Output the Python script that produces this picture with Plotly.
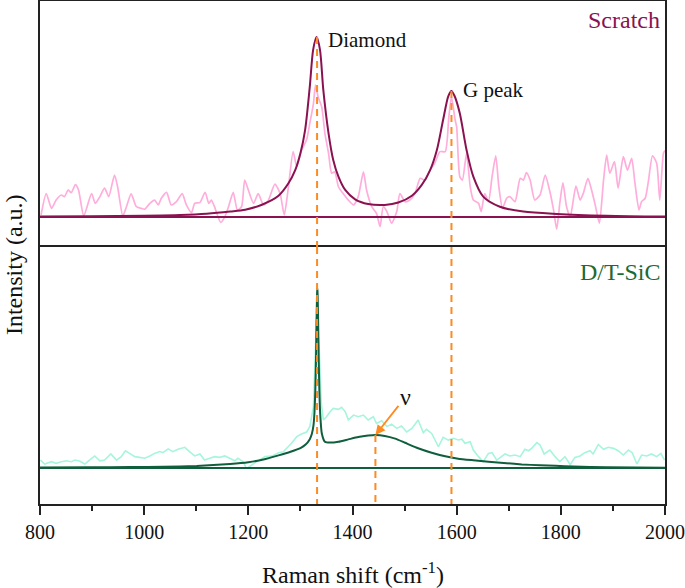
import plotly.graph_objects as go

# ---------------- data ----------------
scratch_raw_x = [802, 812, 822, 831, 841, 847, 854, 860, 868, 874, 884, 899, 906, 915, 924, 932, 943, 949,
                 959, 966, 975, 985, 994, 1001, 1011, 1020, 1027, 1033, 1043, 1052, 1062, 1073, 1081, 1091,
                 1097, 1107, 1117, 1124, 1129, 1135, 1147, 1155, 1162, 1171, 1179, 1187, 1193,
                 1200, 1210, 1219, 1229, 1238, 1251, 1261, 1269, 1277, 1286, 1293, 1302, 1312, 1318, 1325,
                 1329, 1334, 1341, 1347, 1354, 1360, 1366, 1373, 1382, 1392, 1402, 1411, 1421, 1427, 1437,
                 1446, 1453, 1459, 1466, 1475, 1485, 1491, 1501, 1510, 1520, 1530, 1539, 1549, 1558, 1568,
                 1578, 1585, 1590, 1597,
                 1600, 1606, 1611, 1619, 1626, 1632, 1642, 1647, 1654, 1661, 1668, 1675, 1681, 1688, 1696,
                 1702, 1712, 1722, 1728, 1734, 1741, 1750, 1760, 1770, 1779, 1786, 1792, 1798, 1804, 1811,
                 1818, 1829, 1837, 1843, 1852, 1859, 1866, 1874, 1882, 1888, 1894, 1903, 1910, 1920, 1928,
                 1936, 1942, 1950, 1955, 1962, 1968, 1976, 1984, 1990, 1997, 2000]
scratch_raw_y = [0.011, 0.13, 0.048, 0.094, 0.122, 0.113, 0.15, 0.135, 0.18, 0.15, 0.006, 0.13, 0.076, 0.113,
                 0.16, 0.113, 0.233, 0.168, 0.006, 0.057, 0.128, 0.057, 0.048, 0.043, 0.076, 0.094, 0.067,
                 0.104, 0.137, 0.067, 0.085, 0.13, 0.067, 0.024, 0.076, 0.08, 0.137, 0.076, 0.094, 0.057,
                 -0.03, 0.002, 0.057, 0.137, 0.039, 0.057, 0.205,
                 0.15, 0.076, 0.13, 0.067, 0.09, 0.183, 0.13, 0.011, 0.167, 0.363, 0.28, 0.37, 0.43, 0.52,
                 0.63, 0.733, 0.667, 0.61, 0.465, 0.354, 0.243, 0.25, 0.168, 0.13, 0.094, 0.067, 0.113, 0.25,
                 0.15, 0.057, 0.02, -0.054, 0.057, 0.03, -0.035, 0.03, 0.13, 0.085, 0.094, 0.13, 0.215,
                 0.205, 0.26, 0.3, 0.363, 0.363, 0.557, 0.668, 0.54,
                 0.50, 0.224, 0.205, 0.354, 0.168, 0.094, 0.076, 0.03, 0.13, 0.085, 0.224, 0.34, 0.168,
                 0.048, 0.104, 0.113, 0.085, 0.215, 0.205, 0.246, 0.205, 0.094, 0.122, 0.233, 0.14, 0.039,
                 -0.068, 0.076, 0.19, 0.057, 0.0, 0.172, 0.094, 0.13, 0.215, 0.15, 0.067, -0.035, 0.205,
                 0.344, 0.243, 0.307, 0.16, 0.335, 0.26, 0.326, 0.196, 0.039, 0.085, 0.104, 0.196, 0.34,
                 0.298, 0.094, 0.354, 0.37]

scratch_fit_x = [800, 900, 1000, 1069, 1120, 1165, 1194, 1226, 1258, 1277, 1290, 1300, 1309, 1318, 1324.5,
                 1331, 1337.5, 1344, 1354, 1363, 1373, 1386, 1405, 1430, 1462, 1488, 1514, 1533, 1549,
                 1562, 1574, 1584, 1590, 1596, 1606, 1619, 1632, 1651, 1683, 1728, 1792, 1888, 2000]
scratch_fit_y = [0.002, 0.004, 0.007, 0.011, 0.018, 0.03, 0.04, 0.068, 0.118, 0.187, 0.26, 0.354, 0.483,
                 0.724, 0.93, 1.0, 0.93, 0.705, 0.465, 0.317, 0.224, 0.15, 0.098, 0.072, 0.067, 0.08,
                 0.118, 0.178, 0.26, 0.372, 0.54, 0.672, 0.70, 0.672, 0.576, 0.372, 0.224, 0.113, 0.057,
                 0.03, 0.017, 0.007, 0.002]

dt_raw_x = [801, 809, 822, 831, 841, 851, 860, 867, 876, 886, 895, 905, 915, 924, 936, 947, 956, 964, 972,
            982, 991, 1001, 1011, 1020, 1030, 1036, 1046, 1055, 1065, 1078, 1087, 1097, 1107, 1116, 1126,
            1135, 1145, 1155, 1164, 1174, 1180, 1190, 1196,
            1200, 1213, 1232, 1245, 1258, 1267, 1274, 1283, 1293, 1302, 1312, 1318, 1325, 1328, 1331,
            1336, 1340, 1344, 1350, 1357, 1363, 1373, 1379, 1386, 1392, 1402, 1411, 1421, 1430, 1440,
            1446, 1456, 1466, 1475, 1485, 1494, 1504, 1514, 1526, 1536, 1542, 1552, 1565, 1574, 1584,
            1594,
            1603, 1610, 1616, 1626, 1632, 1642, 1651, 1661, 1668, 1677, 1686, 1693, 1702, 1712, 1722,
            1731, 1738, 1744, 1754, 1760, 1768, 1779, 1789, 1798, 1808, 1818, 1827, 1837, 1846, 1856,
            1862, 1872, 1882, 1891, 1901, 1910, 1920, 1930, 1937, 1946, 1955, 1965, 1974, 1984, 1992,
            1999]
dt_raw_y = [0.044, 0.022, 0.035, 0.026, 0.035, 0.04, 0.035, 0.044, 0.039, 0.022, 0.044, 0.067, 0.04, 0.044,
            0.078, 0.044, 0.063, 0.096, 0.081, 0.063, 0.059, 0.054, 0.067, 0.081, 0.091, 0.085, 0.106,
            0.091, 0.104, 0.115, 0.091, 0.067, 0.078, 0.044, 0.054, 0.063, 0.059, 0.067, 0.054, 0.04,
            0.054, 0.035, 0.0,
            0.003, 0.03, 0.063, 0.066, 0.085, 0.09, 0.109, 0.137, 0.174, 0.189, 0.2, 0.23, 0.34, 0.58,
            0.84, 0.67, 0.36, 0.267, 0.285, 0.313, 0.331, 0.326, 0.337, 0.313, 0.267, 0.294, 0.285,
            0.294, 0.267, 0.285, 0.248, 0.263, 0.23, 0.244, 0.22, 0.233, 0.2, 0.22, 0.267, 0.196, 0.215,
            0.192, 0.118, 0.17, 0.155, 0.165,
            0.156, 0.16, 0.137, 0.146, 0.1, 0.063, 0.035, 0.081, 0.085, 0.044, 0.063, 0.078, 0.067,
            0.072, 0.063, 0.104, 0.096, 0.109, 0.141, 0.128, 0.078, 0.1, 0.063, 0.035, 0.063, 0.018,
            0.059, 0.067, 0.085, 0.096, 0.078, 0.131, 0.104, 0.115, 0.109, 0.096, 0.072, 0.1, 0.085,
            0.022, 0.072, 0.067, 0.078, 0.063, 0.081, 0.044]

dt_fit_x = [800, 900, 973, 1037, 1101, 1165, 1200, 1229, 1258, 1281, 1300, 1310, 1318, 1322, 1325, 1327,
            1328.5, 1330, 1331, 1332, 1332.5, 1333, 1334, 1335, 1336.5, 1338, 1341, 1347, 1357, 1373,
            1392, 1411, 1430, 1444, 1462, 1482, 1501, 1526, 1552, 1578, 1603, 1632, 1661, 1696, 1725,
            1760, 1790, 1824, 1888, 2000]
dt_fit_y = [0.003, 0.004, 0.005, 0.007, 0.011, 0.022, 0.032, 0.047, 0.07, 0.09, 0.11, 0.13, 0.16, 0.19,
            0.235, 0.31, 0.42, 0.62, 0.82, 0.97, 1.0, 0.97, 0.82, 0.62, 0.42, 0.30, 0.193, 0.146, 0.141,
            0.146, 0.159, 0.172, 0.18, 0.183, 0.178, 0.163, 0.14, 0.11, 0.085, 0.065, 0.052, 0.043,
            0.035, 0.027, 0.02, 0.015, 0.012, 0.008, 0.004, 0.001]

baseline_x = [800, 2000]
baseline_y = [0, 0]

guide_x = [1332, 1590]        # Diamond and G peak positions
guide_top = [1.0, 0.70]       # fitted peak heights (top panel)
nu_x = 1444                   # nu band position (bottom panel)
nu_y = 0.183

x_ticks = [800, 1000, 1200, 1400, 1600, 1800, 2000]

# ---------------- styling ----------------
PINK = "#FFADDB"
MAGENTA = "#8A1250"
CYAN = "#A6F5DD"
GREEN = "#0F5E3C"
LABEL_GREEN = "#1B6B35"
ORANGE = "#FF8A1E"
FONT = "Liberation Serif"
FRAME = "#222222"

TOP_RANGE = [-0.1667, 1.2]
BOT_RANGE = [-0.2, 1.228]
SPLIT = 0.511

fig = go.Figure()

fig.add_trace(go.Scatter(x=scratch_raw_x, y=scratch_raw_y, mode="lines",
                         line=dict(color=PINK, width=1.7, shape="spline", smoothing=0.6),
                         xaxis="x", yaxis="y", hoverinfo="skip"))
fig.add_trace(go.Scatter(x=baseline_x, y=baseline_y, mode="lines",
                         line=dict(color=MAGENTA, width=2), xaxis="x", yaxis="y"))
fig.add_trace(go.Scatter(x=scratch_fit_x, y=scratch_fit_y, mode="lines",
                         line=dict(color=MAGENTA, width=2, shape="spline", smoothing=0.8),
                         xaxis="x", yaxis="y"))

fig.add_trace(go.Scatter(x=dt_raw_x, y=dt_raw_y, mode="lines",
                         line=dict(color=CYAN, width=1.6),
                         xaxis="x2", yaxis="y2", hoverinfo="skip"))
fig.add_trace(go.Scatter(x=baseline_x, y=baseline_y, mode="lines",
                         line=dict(color=GREEN, width=2), xaxis="x2", yaxis="y2"))
fig.add_trace(go.Scatter(x=dt_fit_x, y=dt_fit_y, mode="lines",
                         line=dict(color=GREEN, width=2, shape="spline", smoothing=0.5),
                         xaxis="x2", yaxis="y2"))

shapes = []
dash = "7px,5px"
for gx, gt in zip(guide_x, guide_top):
    shapes.append(dict(type="line", xref="x", yref="y", x0=gx, x1=gx, y0=gt, y1=TOP_RANGE[0],
                       line=dict(color=ORANGE, width=2, dash=dash), layer="above"))
    shapes.append(dict(type="line", xref="x2", yref="y2 domain", x0=gx, x1=gx, y0=1, y1=0,
                       line=dict(color=ORANGE, width=2, dash=dash), layer="above"))
shapes.append(dict(type="line", xref="x2", yref="y2", x0=nu_x, x1=nu_x, y0=nu_y, y1=BOT_RANGE[0],
                   line=dict(color=ORANGE, width=2, dash=dash), layer="above"))

annotations = [
    dict(text="Diamond", x=guide_x[0] + 18, y=0.985, xref="x", yref="y", xanchor="left",
         yanchor="middle", showarrow=False, font=dict(family=FONT, size=21, color="#111")),
    dict(text="G peak", x=guide_x[1] + 19, y=0.705, xref="x", yref="y", xanchor="left",
         yanchor="middle", showarrow=False, font=dict(family=FONT, size=21, color="#111")),
    dict(text="Scratch", x=0.995, y=1.094, xref="x domain", yref="y", xanchor="right",
         yanchor="middle", showarrow=False, font=dict(family=FONT, size=24, color=MAGENTA)),
    dict(text="D/T-SiC", x=0.995, y=1.089, xref="x2 domain", yref="y2", xanchor="right",
         yanchor="middle", showarrow=False, font=dict(family=FONT, size=24, color=LABEL_GREEN)),
    dict(text="ν", x=nu_x, y=nu_y, xref="x2", yref="y2", ax=30, ay=-38, showarrow=True,
         arrowhead=2, arrowsize=1.1, arrowwidth=1.8, arrowcolor=ORANGE, standoff=0,
         font=dict(family=FONT, size=24, color="#111")),
    dict(text="Intensity (a.u.)", x=-0.0416, y=0.475, xref="paper", yref="paper", textangle=-90,
         xanchor="center", yanchor="middle", showarrow=False,
         font=dict(family=FONT, size=24, color="#111")),
    dict(text="Raman shift (cm<sup>-1</sup>)", x=0.5, y=-0.137, xref="paper", yref="paper",
         xanchor="center", yanchor="middle", showarrow=False,
         font=dict(family=FONT, size=24, color="#111")),
]

axis_common = dict(showline=True, linecolor=FRAME, linewidth=1.5,
                   showgrid=False, zeroline=False)

fig.update_layout(
    width=685, height=588,
    margin=dict(l=40, r=20, t=1, b=84, autoexpand=False),
    paper_bgcolor="white", plot_bgcolor="white",
    showlegend=False,
    xaxis=dict(domain=[0, 1], anchor="y", side="top", range=[800, 2000], showticklabels=False,
               ticks="", matches="x2", mirror=False, **axis_common),
    yaxis=dict(domain=[SPLIT, 1], anchor="x", range=TOP_RANGE, showticklabels=False, ticks="",
               mirror=True, **axis_common),
    xaxis2=dict(domain=[0, 1], anchor="y2", range=[800, 2000], tickvals=x_ticks,
                ticks="outside", ticklen=9, tickwidth=1.5, tickcolor=FRAME, mirror=True,
                minor=dict(dtick=100, tick0=800, ticks="outside", ticklen=5, tickwidth=1.5,
                           tickcolor=FRAME),
                tickfont=dict(family=FONT, size=20, color="#111"), **axis_common),
    yaxis2=dict(domain=[0, SPLIT], anchor="x2", range=BOT_RANGE, showticklabels=False, ticks="",
                mirror=True, **axis_common),
    shapes=shapes,
    annotations=annotations,
)

fig.write_html("out.html", config={"displayModeBar": False},
               post_script="document.body.style.margin='0';document.body.style.padding='0';")
